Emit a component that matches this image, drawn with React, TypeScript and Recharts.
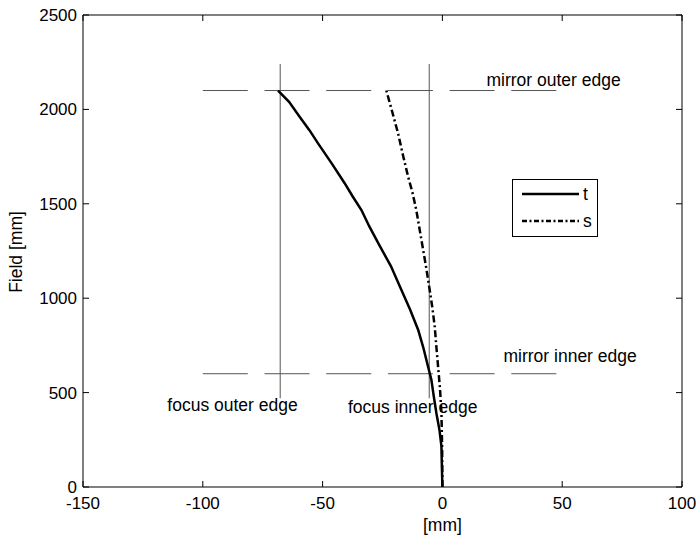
import React from 'react';
import { ScatterChart, Scatter, XAxis, YAxis, ReferenceLine, ReferenceDot } from 'recharts';

const xTicks = [-150, -100, -50, 0, 50, 100];
const yTicks = [0, 500, 1000, 1500, 2000, 2500];

const tData = [
  { x: 0, y: 0 }, { x: -0.2, y: 100 }, { x: -0.4, y: 215 }, { x: -1.2, y: 300 },
  { x: -2.5, y: 391 }, { x: -3.6, y: 480 }, { x: -4.6, y: 568 }, { x: -6.0, y: 638 },
  { x: -8.0, y: 740 }, { x: -10.1, y: 832 }, { x: -13.5, y: 940 }, { x: -17.1, y: 1044 },
  { x: -21.5, y: 1170 }, { x: -26.5, y: 1285 }, { x: -30.5, y: 1380 }, { x: -33.8, y: 1467 },
  { x: -37.5, y: 1540 }, { x: -40.8, y: 1609 }, { x: -46.0, y: 1710 }, { x: -51.9, y: 1820 },
  { x: -55.5, y: 1890 }, { x: -59.6, y: 1961 }, { x: -64.0, y: 2040 }, { x: -68.6, y: 2100 },
];

const sData = [
  { x: 0, y: 0 }, { x: -0.1, y: 200 }, { x: -0.4, y: 393 }, { x: -1.0, y: 520 },
  { x: -1.8, y: 638 }, { x: -2.5, y: 740 }, { x: -3.2, y: 850 }, { x: -4.2, y: 950 },
  { x: -5.3, y: 1044 }, { x: -7.0, y: 1180 }, { x: -8.5, y: 1290 }, { x: -10.9, y: 1467 },
  { x: -12.5, y: 1560 }, { x: -14.3, y: 1643 }, { x: -16.5, y: 1760 }, { x: -18.5, y: 1873 },
  { x: -21.0, y: 1990 }, { x: -23.4, y: 2100 },
];

const mirrorFields = [2100, 600];
const mirrorExtent = [-100, 50];
const focusXs = [-67.7, -5.5];
const focusExtent = [470, 2240];

const annotations = [
  { text: 'mirror outer edge', x: 18.4, y: 2123 },
  { text: 'mirror inner edge', x: 25.5, y: 660 },
  { text: 'focus outer edge', x: -114.8, y: 400 },
  { text: 'focus inner edge', x: -39.4, y: 391 },
];

const FONT = '"Liberation Sans", Arial, Helvetica, sans-serif';
const GUIDE = '#555';
const S_DASH = '7 3 2 3';
const TICK_LEN = 6;

const noShape = () => <g />;

const makeLabel = (text: string) => (props: any) => {
  const vb = props.viewBox || {};
  return (
    <text x={vb.x} y={vb.y} fontSize={17.5} fill="#000" fontFamily={FONT} textAnchor="start">
      {text}
    </text>
  );
};

const BottomTick = (props: any) => {
  const { x, y, payload } = props;
  return (
    <g>
      <line x1={x} x2={x} y1={y} y2={y - TICK_LEN} stroke="#000" strokeWidth={1} />
      <text x={x} y={y + 10} dy="0.71em" textAnchor="middle" fontSize={17} fill="#000" fontFamily={FONT}>
        {payload.value}
      </text>
    </g>
  );
};

const LeftTick = (props: any) => {
  const { x, y, payload } = props;
  return (
    <g>
      <line x1={x} x2={x + TICK_LEN} y1={y} y2={y} stroke="#000" strokeWidth={1} />
      <text x={x - 6} y={y} dy="0.355em" textAnchor="end" fontSize={17} fill="#000" fontFamily={FONT}>
        {payload.value}
      </text>
    </g>
  );
};

const TopTick = (props: any) => {
  const { x, y } = props;
  return <line x1={x} x2={x} y1={y} y2={y + TICK_LEN} stroke="#000" strokeWidth={1} />;
};

const RightTick = (props: any) => {
  const { x, y } = props;
  return <line x1={x} x2={x - TICK_LEN} y1={y} y2={y} stroke="#000" strokeWidth={1} />;
};

const LegendBox = () => (
  <svg width={86} height={58} style={{ display: 'block' }}>
    <rect x={0.5} y={0.5} width={85} height={57} fill="#fff" stroke="#000" strokeWidth={1} />
    <line x1={10} x2={67} y1={15} y2={15} stroke="#000" strokeWidth={2.5} />
    <text x={71} y={21} fontSize={17.5} fontFamily={FONT} fill="#000">t</text>
    <line x1={10} x2={67} y1={42} y2={42} stroke="#000" strokeWidth={2.5} strokeDasharray={'5 2.5 2 2.5'} />
    <text x={71} y={48} fontSize={17.5} fontFamily={FONT} fill="#000">s</text>
  </svg>
);

export default function App() {
  return (
    <div style={{ position: 'absolute', left: 0, top: 0, width: 697, height: 538, background: '#fff' }}>
      <ScatterChart
        width={697}
        height={538}
        margin={{ top: 14, right: 14, bottom: 21, left: 23 }}
        style={{ fontFamily: FONT }}
      >
        <XAxis
          type="number"
          dataKey="x"
          domain={[-150, 100]}
          ticks={xTicks}
          allowDataOverflow
          height={30}
          tickSize={0}
          tickMargin={0}
          tickLine={false}
          stroke="#000"
          tick={<BottomTick />}
          label={(props: any) => {
            const vb = props.viewBox;
            const cx = vb.x + vb.width * ((0 - (-150)) / 250);
            return (
              <text x={cx} y={vb.y + 44} textAnchor="middle" fontSize={17.5} fill="#000" fontFamily={FONT}>
                [mm]
              </text>
            );
          }}
        />
        <XAxis
          xAxisId="top"
          orientation="top"
          type="number"
          dataKey="x"
          domain={[-150, 100]}
          ticks={xTicks}
          allowDataOverflow
          height={1}
          tickSize={0}
          tickMargin={0}
          tickLine={false}
          tick={<TopTick />}
          stroke="#000"
        />
        <YAxis
          type="number"
          dataKey="y"
          domain={[0, 2500]}
          ticks={yTicks}
          allowDataOverflow
          width={60}
          tickSize={0}
          tickMargin={0}
          tickLine={false}
          stroke="#000"
          tick={<LeftTick />}
          label={(props: any) => {
            const vb = props.viewBox;
            const cy = vb.y + vb.height / 2 + 1;
            const lx = vb.x - 1;
            return (
              <text x={lx} y={cy} transform={`rotate(-90, ${lx}, ${cy})`} textAnchor="middle" fontSize={17.5} fill="#000" fontFamily={FONT}>
                Field [mm]
              </text>
            );
          }}
        />
        <YAxis
          yAxisId="right"
          orientation="right"
          type="number"
          dataKey="y"
          domain={[0, 2500]}
          ticks={yTicks}
          allowDataOverflow
          width={1}
          tickSize={0}
          tickMargin={0}
          tickLine={false}
          tick={<RightTick />}
          stroke="#000"
        />

        {mirrorFields.map((f) => (
          <ReferenceLine
            key={'m' + f}
            segment={[{ x: mirrorExtent[0], y: f }, { x: mirrorExtent[1], y: f }]}
            stroke={GUIDE}
            strokeWidth={1}
            strokeDasharray="45 16.7"
          />
        ))}
        {focusXs.map((fx) => (
          <ReferenceLine
            key={'f' + fx}
            segment={[{ x: fx, y: focusExtent[0] }, { x: fx, y: focusExtent[1] }]}
            stroke={GUIDE}
            strokeWidth={1}
          />
        ))}

        <Scatter
          name="t"
          data={tData}
          fill="#000"
          shape={noShape}
          line={{ stroke: '#000', strokeWidth: 2.5 }}
          isAnimationActive={false}
        />
        <Scatter
          name="s"
          data={sData}
          xAxisId="top"
          yAxisId="right"
          fill="#000"
          shape={noShape}
          line={{ stroke: '#000', strokeWidth: 2.5, strokeDasharray: S_DASH }}
          isAnimationActive={false}
        />

        {annotations.map((a) => (
          <ReferenceDot
            key={a.text}
            x={a.x}
            y={a.y}
            r={0}
            fill="none"
            stroke="none"
            label={makeLabel(a.text)}
          />
        ))}
      </ScatterChart>
      <div style={{ position: 'absolute', left: 512, top: 179, width: 86, height: 58 }}>
        <LegendBox />
      </div>
    </div>
  );
}
